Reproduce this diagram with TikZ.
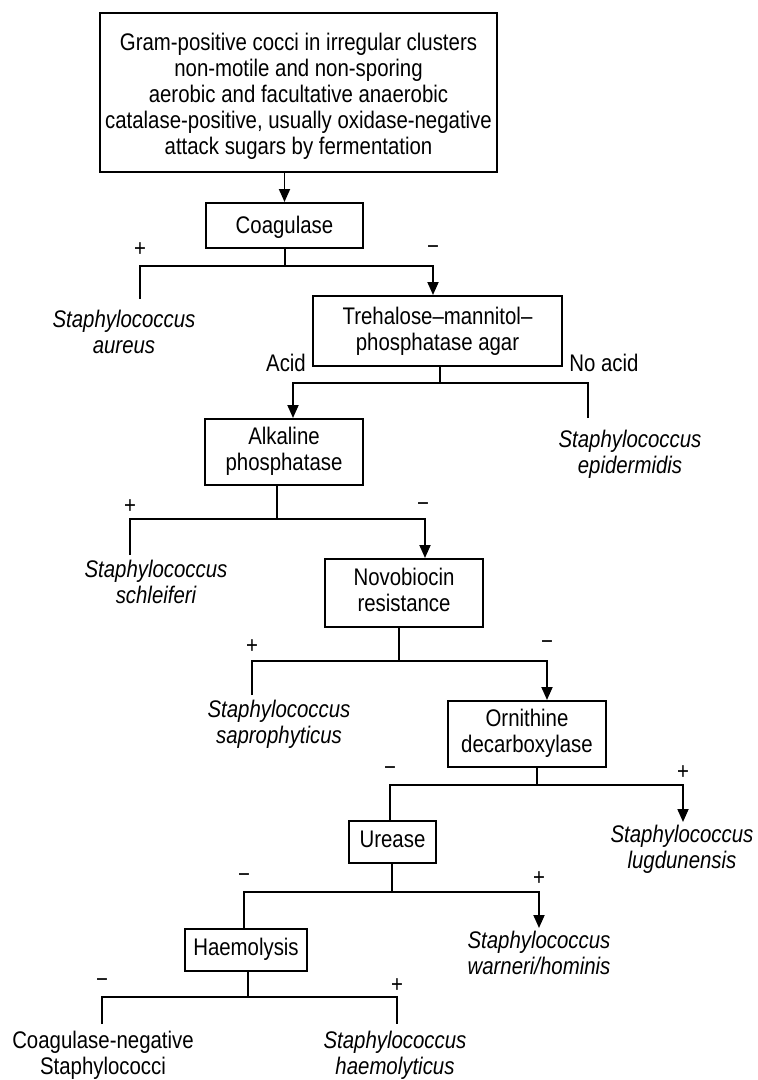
\documentclass[tikz,border=0pt]{standalone}
\usepackage{fontspec}
\setmainfont{Liberation Sans}[FakeStretch=0.85]
\usetikzlibrary{arrows.meta}
\begin{document}
\begin{tikzpicture}[x=1pt,y=-1pt,
  box/.style={draw, line width=2pt, inner sep=0pt, align=center, font=\fontsize{24}{26}\selectfont},
  ln/.style={line width=1.8pt},
  arr/.style={ln, -{Triangle[length=13pt,width=11pt]}},
  sp/.style={align=center, inner sep=0pt, font=\fontsize{24}{26}\selectfont\itshape},
  lbl/.style={align=center, inner sep=0pt, font=\fontsize{24}{26}\selectfont},
  sg/.style={inner sep=0pt, font=\fontsize{24}{26}\selectfont}]
\useasboundingbox (0,0) rectangle (758,1080);

% boxes
\node[box, minimum width=397pt, minimum height=159pt] (top) at (298.5,92.5)
  {\rule{0pt}{28pt}Gram-positive cocci in irregular clusters\\non-motile and non-sporing\\aerobic and facultative anaerobic\\catalase-positive, usually oxidase-negative\\attack sugars by fermentation\strut};
\node[box, minimum width=157pt, minimum height=45pt] (coag) at (284.5,225.5) {\rule{0pt}{20pt}Coagulase};
\node[box, minimum width=249pt, minimum height=70pt] (treh) at (437.5,331) {\rule{0pt}{21pt}Trehalose–mannitol–\\phosphatase agar\strut};
\node[box, minimum width=158pt, minimum height=66pt] (alk) at (284,452) {\strut Alkaline\\phosphatase\strut};
\node[box, minimum width=158pt, minimum height=68pt] (novo) at (404,593) {\strut Novobiocin\\resistance\strut};
\node[box, minimum width=158pt, minimum height=66pt] (orn) at (527,734) {\strut Ornithine\\decarboxylase\strut};
\node[box, minimum width=87pt, minimum height=42pt] (ure) at (392.5,842) {\strut Urease};
\node[box, minimum width=122pt, minimum height=42pt] (haem) at (246,950) {\strut Haemolysis};

% outcomes
\node[sp] (aur) at (124,335) {\strut Staphylococcus\\aureus\strut};
\node[sp] (epi) at (630,455) {\strut Staphylococcus\\epidermidis\strut};
\node[sp] (sch) at (156,585) {\strut Staphylococcus\\schleiferi\strut};
\node[sp] (sap) at (279,725) {\strut Staphylococcus\\saprophyticus\strut};
\node[sp] (lug) at (682,850) {\strut Staphylococcus\\lugdunensis\strut};
\node[sp] (war) at (539,956) {\strut Staphylococcus\\warneri/hominis\strut};
\node[lbl] (cns) at (103,1056.5) {\strut Coagulase-negative\\Staphylococci\strut};
\node[sp] (hly) at (395,1056.5) {\strut Staphylococcus\\haemolyticus\strut};

% branch labels
\node[lbl] (acid) at (286,363) {Acid};
\node[lbl] (noacid) at (604,363) {No acid};
\node[sg] (p1) at (140,250) {+};
\node[sg] (m1) at (433,250) {−};
\node[sg] (p2) at (130,507) {+};
\node[sg] (m2) at (423,507) {−};
\node[sg] (p3) at (252,647) {+};
\node[sg] (m3) at (547,645) {−};
\node[sg] (m4) at (390,771) {−};
\node[sg] (p4) at (683,773) {+};
\node[sg] (m5) at (244,878) {−};
\node[sg] (p5) at (539,879) {+};
\node[sg] (m6) at (102,983) {−};
\node[sg] (p6) at (397,986) {+};

% connectors
\draw[arr] (top.south -| coag.north) -- (coag.north);

\coordinate (c1L) at (140,299);
\coordinate (c1R) at (433,266);
\draw[ln] ([xshift=0.5pt]coag.south) -- ([xshift=0.5pt]coag.south |- c1R);
\draw[arr] (c1L) |- (c1R) -- (c1R |- treh.north);

\coordinate (t1L) at (293,383);
\coordinate (t1R) at (588,418);
\draw[ln] ([xshift=2.5pt]treh.south) -- ([xshift=2.5pt]treh.south |- t1L);
\draw[arr] (t1R) |- (t1L) -- (t1L |- alk.north);

\coordinate (a1L) at (130,555);
\coordinate (a1R) at (425,519);
\draw[ln] ([xshift=-7pt]alk.south) -- ([xshift=-7pt]alk.south |- a1R);
\draw[arr] (a1L) |- (a1R) -- (a1R |- novo.north);

\coordinate (n1L) at (252,695);
\coordinate (n1R) at (547,661);
\draw[ln] ([xshift=-5pt]novo.south) -- ([xshift=-5pt]novo.south |- n1R);
\draw[arr] (n1L) |- (n1R) -- (n1R |- orn.north);

\coordinate (o1L) at (390,785);
\coordinate (o1R) at (683,822);
\draw[ln] ([xshift=10pt]orn.south) -- ([xshift=10pt]orn.south |- o1L);
\draw[arr] (o1L |- ure.north) -- (o1L) -| (o1R);

\coordinate (u1L) at (244,892);
\coordinate (u1R) at (539,928);
\draw[ln] ([xshift=-0.5pt]ure.south) -- ([xshift=-0.5pt]ure.south |- u1L);
\draw[arr] (u1L |- haem.north) -- (u1L) -| (u1R);

\coordinate (h1T) at (0,997);
\coordinate (h1L) at (102,1024);
\coordinate (h1R) at (397,1024);
\draw[ln] ([xshift=2pt]haem.south) -- ([xshift=2pt]haem.south |- h1T);
\draw[ln] (h1L) |- (h1T -| h1R) -- (h1R);
\end{tikzpicture}
\end{document}
